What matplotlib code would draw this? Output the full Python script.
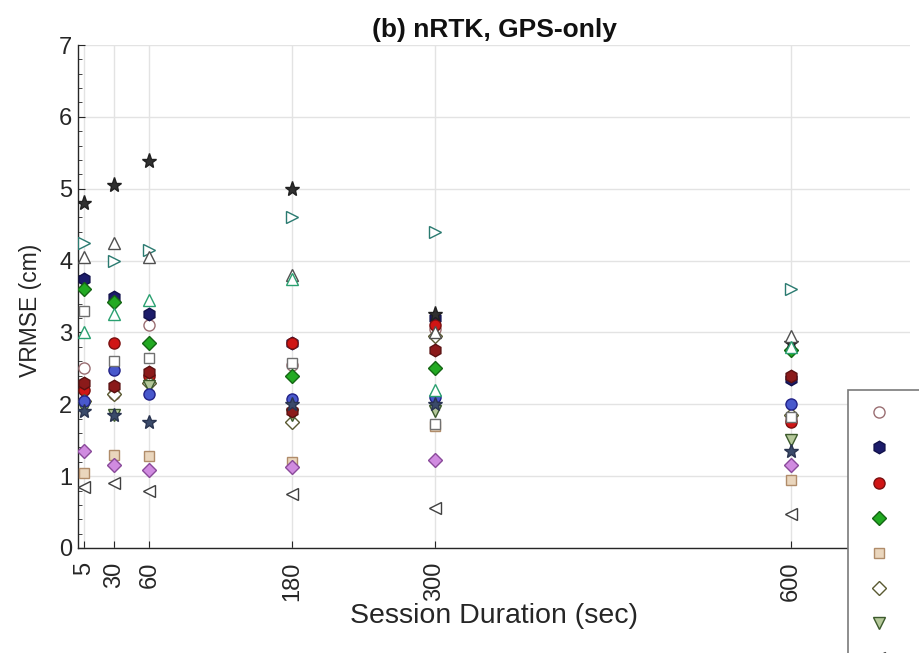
import numpy as np
import matplotlib
matplotlib.use("Agg")
import matplotlib.pyplot as plt

plt.rcParams['font.family'] = ['Liberation Sans', 'DejaVu Sans']

# session durations (sec) and VRMSE (cm) per site
durations = [5, 30, 60, 180, 300, 600]
tick_labels = ['5', '30', '60', '180', '300', '600']

site_names = ['P01', 'P02', 'P03', 'P04', 'P05', 'P06', 'P07', 'P08', 'P09',
              'P10', 'P11', 'P12', 'P13', 'P14', 'P15', 'P16', 'P17']

p01 = [2.50, 2.15, 3.10, 2.55, 3.05, 1.80]
p02 = [3.75, 3.50, 3.25, 2.85, 3.20, 2.35]
p03 = [2.20, 2.85, 2.40, 2.85, 3.10, 1.75]
p04 = [3.60, 3.42, 2.85, 2.40, 2.50, 2.75]
p05 = [1.05, 1.30, 1.28, 1.20, 1.70, 0.95]
p06 = [2.05, 2.15, 2.30, 1.75, 2.95, 1.85]
p07 = [1.95, 1.85, 2.25, 1.85, 1.90, 1.50]
p08 = [0.85, 0.90, 0.80, 0.75, 0.55, 0.48]
p09 = [4.80, 5.05, 5.38, 5.00, 3.25, 2.85]
p10 = [4.25, 4.00, 4.15, 4.60, 4.40, 3.60]
p11 = [4.05, 4.25, 4.05, 3.80, 3.00, 2.95]
p12 = [1.35, 1.15, 1.08, 1.13, 1.22, 1.15]
p13 = [2.05, 2.48, 2.15, 2.08, 2.10, 2.00]
p14 = [2.30, 2.25, 2.45, 1.90, 2.75, 2.40]
p15 = [3.00, 3.25, 3.45, 3.75, 2.20, 2.80]
p16 = [1.90, 1.85, 1.75, 2.00, 2.00, 1.35]
p17 = [3.30, 2.60, 2.65, 2.58, 1.72, 1.83]

series = [p01, p02, p03, p04, p05, p06, p07, p08, p09,
          p10, p11, p12, p13, p14, p15, p16, p17]

# marker, size, face colour, edge colour
styles = [
    ('o', 8, 'white', '#9a6e72'),
    ('h', 9, '#1c1c6a', '#10104a'),
    ('o', 8, '#d01515', '#7a1010'),
    ('D', 7, '#22aa22', '#146614'),
    ('s', 7, '#ead6bd', '#b08c6a'),
    ('D', 7, 'white', '#5a5a32'),
    ('v', 8, '#b5c89a', '#3c5a2c'),
    ('<', 8, 'white', '#404040'),
    ('*', 11, '#303030', '#202020'),
    ('>', 8, 'white', '#2a7a70'),
    ('^', 8, 'white', '#505050'),
    ('D', 7, '#d08be0', '#8a4a9a'),
    ('o', 8, '#4858cc', '#222288'),
    ('h', 9, '#8b1a1a', '#5a1010'),
    ('^', 8, 'white', '#2aa070'),
    ('*', 10, '#3a4a6a', '#2a3450'),
    ('s', 7, 'white', '#707070'),
]

fig = plt.figure(figsize=(9.19, 6.53), dpi=100)
ax = fig.add_axes([78 / 919, 1 - 548 / 653, (910 - 78) / 919, (548 - 45) / 653])

handles = []
for vals, name, (mk, ms, fc, ec) in zip(series, site_names, styles):
    h, = ax.plot(durations, vals, linestyle='none', marker=mk, markersize=ms,
                 markerfacecolor=fc, markeredgecolor=ec, markeredgewidth=1.0,
                 label=name, zorder=3)
    handles.append(h)

ax.set_xlim(0, 700)
ax.set_ylim(0, 7)
ax.set_xticks(durations)
ax.set_xticklabels(tick_labels, rotation=90)
ax.set_yticks(np.arange(0, 8, 1))
ax.set_yticks(np.arange(0, 7.01, 0.2), minor=True)
ax.tick_params(axis='both', which='major', direction='in', length=5,
               labelsize=17, colors='#262626', pad=4)
ax.tick_params(axis='x', which='major', pad=10)
ax.tick_params(axis='y', which='minor', direction='in', length=3, color='#262626')
ax.grid(True, which='major', color='#e3e3e3', linewidth=1.0)
ax.set_axisbelow(True)

for side in ['top', 'right']:
    ax.spines[side].set_visible(False)
for side in ['left', 'bottom']:
    ax.spines[side].set_color('#262626')
    ax.spines[side].set_linewidth(1.0)

ax.set_xlabel('Session Duration (sec)', fontsize=20.5, color='#262626', labelpad=1)
ax.set_ylabel('VRMSE (cm)', fontsize=16.5, color='#262626')
ax.yaxis.set_label_coords(-0.043, 0.473)
ax.set_title('(b) nRTK, GPS-only', fontsize=19, fontweight='bold', color='#111111', pad=6)

# legend sits over the lower right corner, its names run past the edge
leg = fig.legend(handles=handles, loc='upper left', bbox_to_anchor=(848 / 919, 1 - 390 / 653),
                 frameon=True, fancybox=False, framealpha=1.0, edgecolor='#7a7a7a',
                 borderaxespad=0, fontsize=14, labelspacing=0.9, handlelength=1.6,
                 borderpad=0.8, handletextpad=1.8)
leg.get_frame().set_linewidth(1.2)

fig.savefig('out.png', dpi=100)
